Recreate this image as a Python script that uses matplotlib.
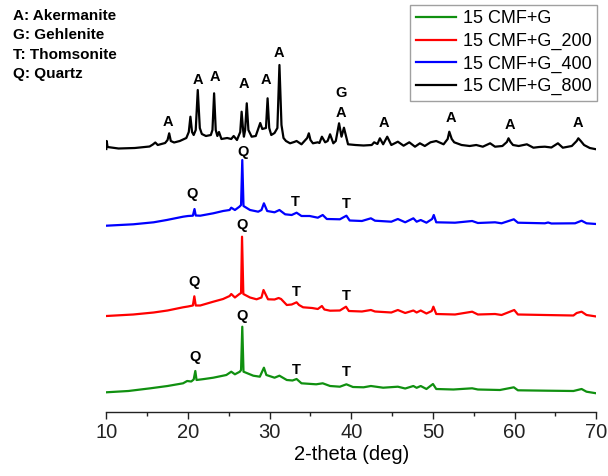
import matplotlib
matplotlib.use("Agg")
import matplotlib.pyplot as plt
from matplotlib.ticker import MultipleLocator

plt.rcParams['font.family'] = ['Liberation Sans', 'DejaVu Sans']

# ---------------- data (2-theta in deg, intensity in a.u. above each trace's baseline)
x_800 = [10.0, 10.05, 10.15, 11.5, 13.5, 15.3, 15.7, 16.0, 16.3, 17.2, 17.5, 17.7, 17.9, 18.3, 19.0,
         19.8, 20.1, 20.3, 20.5, 20.7, 20.95, 21.2, 21.45, 21.7, 22.2, 22.8, 23.0, 23.2, 23.4, 23.6,
         23.8, 24.1, 24.8, 25.3, 25.6, 26.0, 26.4, 26.57, 26.75, 26.85, 27.0, 27.2, 27.4, 27.8, 28.3,
         28.85, 29.1, 29.55, 29.75, 29.95, 30.2, 30.6, 30.95, 31.2, 31.45, 31.7, 32.0, 32.5, 33.0, 33.3,
         33.9, 34.6, 34.8, 35.0, 35.3, 35.9, 36.1, 36.4, 36.8, 37.1, 37.4, 37.8, 38.1, 38.5, 38.8,
         39.1, 39.6, 40.5, 41.5, 42.5, 42.8, 43.2, 43.5, 43.9, 44.4, 44.9, 45.7, 46.4, 47.1, 47.8,
         48.4, 49.0, 49.7, 50.4, 51.3, 51.8, 52.0, 52.3, 52.6, 53.5, 54.5, 55.3, 56.1, 57.0, 57.6,
         58.5, 59.05, 59.25, 59.5, 59.8, 60.5, 61.5, 62.3, 63.0, 63.7, 64.5, 65.3, 65.9, 67.0, 67.6,
         67.8, 68.1, 68.5, 69.2, 70.0]
y_800 = [0, 8, 2, 0.5, 1, 2.5, 4.5, 6.5, 4, 6, 9, 15.7, 8, 6.5, 8,
         11, 17, 32.3, 17, 14, 19, 59, 21, 15, 13, 14, 19, 55.7, 19, 13,
         17, 10, 11, 10, 13, 9, 17, 37.3, 19, 12.3, 19, 45.7, 19, 12.3, 13,
         26, 20, 21, 50.7, 21, 14, 16, 21, 84, 24, 11, 8, 5.7, 7, 8,
         4.7, 11, 15.7, 9, 5.7, 6.7, 6, 12.3, 6.7, 8, 14.7, 5.7, 8, 25.7, 12.3,
         21.3, 4.7, 4, 3.5, 4, 6.7, 5, 10.7, 4.7, 12.3, 4, 7.3, 3.3, 6.7, 2.3,
         5.7, 3, 6.7, 8, 4.7, 10, 17.3, 10, 6.7, 4, 3, 4, 2.3, 5.7, 2.3,
         3, 7, 10.7, 7, 4, 3, 4.7, 1.3, 2, 2.3, 1.5, 5.7, 1.3, 3, 8,
         10.7, 8, 4, 1, -0.3]

x_400 = [10.0, 13.3, 15.8, 17.4, 19.4, 20.0, 20.6, 20.8, 20.95, 21.5, 23.1, 24.3, 25.1, 25.3, 25.75,
         26.3, 26.5, 26.65, 26.8, 27.6, 28.6, 29.0, 29.3, 29.7, 30.6, 31.2, 31.9, 32.7, 33.3, 33.9,
         34.9, 35.9, 36.5, 37.0, 38.6, 39.4, 39.8, 41.3, 42.4, 42.9, 44.9, 45.7, 46.6, 47.6, 48.0,
         48.5, 49.2, 49.9, 50.1, 50.4, 52.7, 54.8, 55.5, 57.6, 58.4, 59.9, 60.4, 63.7, 64.1, 64.5,
         67.4, 68.2, 68.8, 70.0]
y_400 = [-0.2, 1.2, 3.2, 5.5, 8.8, 9.5, 9.8, 16.5, 10, 9.8, 12.2, 14.5, 15.5, 17.8, 15.5,
         18.8, 20.5, 65.5, 19.5, 15.5, 13.8, 15.5, 22.2, 14.5, 13.2, 15.5, 11.2, 10.5, 12.8, 9.5,
         9.5, 7.8, 10.5, 6.5, 6.2, 9.8, 5, 4.5, 7.2, 4.8, 3.8, 6.5, 3.2, 7.2, 3.8,
         5.5, 2.8, 6.5, 10.5, 3.2, 2.8, 4.5, 2.5, 3.2, 2.2, 6.2, 2.8, 2.2, 3, 2,
         2.2, 4.8, 2.2, 1.5]

x_200 = [10.0, 13.3, 15.8, 17.5, 19.4, 20.0, 20.6, 20.78, 20.95, 21.5, 23.1, 24.3, 25.1, 25.3, 25.75,
         26.3, 26.5, 26.62, 26.78, 27.6, 28.4, 29.0, 29.25, 29.8, 30.6, 31.1, 31.4, 32.1, 32.7, 33.3,
         33.6, 34.1, 35.2, 35.9, 36.4, 36.7, 37.4, 38.6, 39.35, 39.7, 41.3, 42.4, 42.9, 44.9, 45.7,
         46.6, 47.6, 48.0, 48.5, 49.2, 49.85, 50.05, 50.4, 52.7, 54.8, 55.5, 57.6, 58.4, 59.95, 60.4,
         63.7, 67.2, 67.6, 68.2, 68.8, 70.0]
y_200 = [0.5, 2, 4, 6, 9.2, 10, 11, 20.2, 11, 11, 14.8, 17.5, 20.5, 22.5, 19,
         22.5, 23.5, 79.8, 22.5, 19, 17.2, 19, 26.5, 17.2, 17, 18.5, 17.5, 11.5, 12, 14.2,
         11.5, 9.2, 8.5, 7.5, 10.5, 7, 5.8, 6, 9.8, 5.5, 5, 6.5, 5, 4, 6.5,
         3.5, 6, 4, 6, 3, 5.5, 9.8, 2.5, 2, 4.8, 2, 2.5, 1.5, 6.5, 2,
         1.5, 1, 3.5, 4.8, 1.5, 0]

x_0 = [10.0, 12.7, 15.4, 17.5, 19.4, 19.9, 20.4, 20.7, 20.9, 21.05, 22.0, 23.1, 24.7, 25.3, 25.75,
       26.35, 26.5, 26.65, 26.8, 28.0, 28.8, 29.3, 29.6, 30.6, 31.2, 32.1, 32.8, 33.3, 33.9, 35.7,
       36.5, 37.4, 38.6, 39.4, 40.2, 41.5, 42.4, 43.9, 45.7, 46.6, 47.6, 48.0, 48.5, 49.2, 50.0,
       50.4, 52.5, 54.8, 55.5, 58.2, 59.9, 60.4, 64.0, 67.2, 68.2, 68.8, 70.0]
y_0 = [0.7, 2, 4.7, 7, 9.7, 12, 11.5, 13.5, 22, 13, 14, 15.3, 18, 21.3, 18.7,
       21.3, 23, 66.3, 21.3, 17.3, 16.3, 25.3, 18, 15.3, 17.3, 13, 12.5, 14, 9.7, 8.7,
       9.7, 7, 6.3, 8.7, 6, 5.7, 7, 5.3, 6.3, 4.5, 7, 5.2, 7, 4, 9,
       4, 3.5, 4.7, 3.5, 3, 5.7, 2.7, 2.3, 2, 4, 1.3, -0.3]

series_labels = ["15 CMF+G", "15 CMF+G_200", "15 CMF+G_400", "15 CMF+G_800"]
phase_key = ["A: Akermanite", "G: Gehlenite", "T: Thomsonite", "Q: Quartz"]
x_ticks = [10, 20, 30, 40, 50, 60, 70]

# ---------------- styling / layout
colors = ['#109010', '#ff0000', '#0000ff', '#000000']
offsets = [19, 95.5, 186.5, 263]

fig = plt.figure(figsize=(6.08, 4.76), dpi=100)
ax = fig.add_axes([106.3 / 608, 1 - 412 / 476, 490 / 608, 412 / 476])

xs = [x_0, x_200, x_400, x_800]
ys = [y_0, y_200, y_400, y_800]
handles = []
for xv, yv, c, off, lab in zip(xs, ys, colors, offsets, series_labels):
    h, = ax.plot(xv, [v + off for v in yv], color=c, lw=1.6, label=lab, solid_joinstyle='round')
    handles.append(h)

ax.set_xlim(10, 70)
ax.set_ylim(0, 412)
ax.set_xticks(x_ticks)
ax.xaxis.set_minor_locator(MultipleLocator(5))
ax.set_yticks([])
for s in ['top', 'right', 'left']:
    ax.spines[s].set_visible(False)
ax.spines['bottom'].set_linewidth(1.0)
ax.spines['bottom'].set_color('#222222')
ax.tick_params(axis='x', which='major', direction='out', length=5, width=1.0,
               labelsize=14.5, colors='#222222', pad=3)
ax.tick_params(axis='x', which='minor', direction='out', length=3, width=1.0, colors='#222222')
ax.set_xlabel("2-theta (deg)", fontsize=14.5, labelpad=2)
ax.patch.set_alpha(0)

# peak annotations (letter, 2-theta, height on the plot)
peak_marks = [
    ("A", 17.6, 412 - 121.7), ("A", 21.2, 412 - 80), ("A", 23.3, 412 - 76.7),
    ("A", 26.85, 412 - 84.3), ("A", 29.5, 412 - 80), ("A", 31.2, 412 - 53),
    ("G", 38.7, 412 - 93.3), ("A", 38.7, 412 - 113.3), ("A", 44.0, 412 - 123.3),
    ("A", 52.2, 412 - 118.3), ("A", 59.4, 412 - 125), ("A", 67.8, 412 - 123.3),
    ("Q", 20.45, 412 - 194.3), ("Q", 26.8, 412 - 151.7), ("T", 33.2, 412 - 201.7), ("T", 39.4, 412 - 204.3),
    ("Q", 26.6, 412 - 225), ("Q", 20.8, 412 - 281.7), ("T", 33.3, 412 - 292.3), ("T", 39.4, 412 - 295.7),
    ("Q", 26.6, 412 - 315.7), ("Q", 20.9, 412 - 356.7), ("T", 33.3, 412 - 370), ("T", 39.4, 412 - 371.7),
]
for t, px, py in peak_marks:
    ax.text(px, py, t, ha='center', va='center', fontsize=10.5, fontweight='bold')

# phase key at top-left
for i, t in enumerate(phase_key):
    fig.text(13 / 608, 1 - (16 + 19.3 * i) / 476, t, ha='left', va='center',
             fontsize=11, fontweight='bold')

leg = ax.legend(handles=handles, loc='upper right', bbox_to_anchor=(597 / 608, 1 - 5 / 476),
                bbox_transform=fig.transFigure, borderaxespad=0, fontsize=13,
                frameon=True, fancybox=False, edgecolor='#888888', handlelength=2.2,
                handletextpad=0.4, labelspacing=0.3, borderpad=0.3)
leg.get_frame().set_linewidth(1.0)

fig.savefig("out.png", dpi=100)
